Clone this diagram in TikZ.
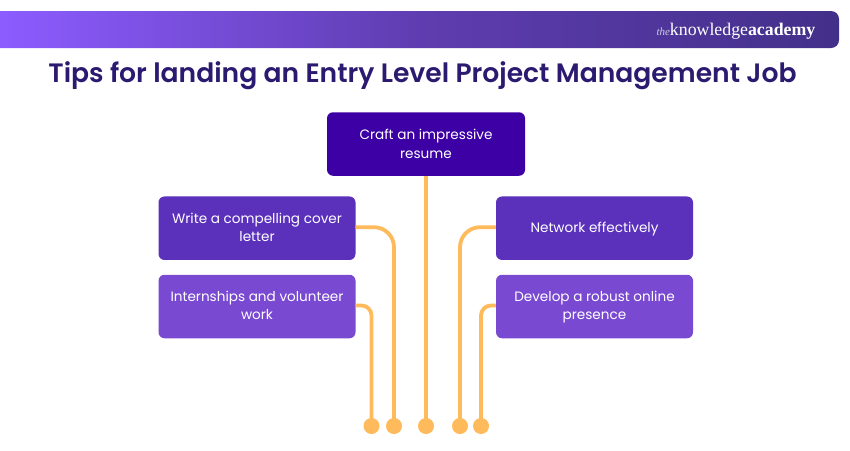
\documentclass[tikz,border=0pt]{standalone}
\usepackage{fontspec}
\setmainfont{Poppins}
\newfontfamily\logofont{Liberation Serif}
\newfontfamily\titlefont{Poppins SemiBold}
\definecolor{topbox}{HTML}{3C00A4}
\definecolor{midbox}{HTML}{5B31BC}
\definecolor{lowbox}{HTML}{7949D2}
\definecolor{wire}{HTML}{FFBA5C}
\definecolor{titleink}{HTML}{2B1A6F}
\definecolor{barleft}{HTML}{8C5CFF}
\definecolor{barright}{HTML}{43308A}
\definecolor{barmid}{HTML}{5F3DB0}
\newcommand{\dropfill}{\rule[-2pt]{0pt}{2pt}}
\tikzset{
  card/.style={rounded corners=6pt, minimum width=197pt, minimum height=63.5pt, inner sep=0pt,
    text=white, align=center, font=\fontsize{13.6}{19}\selectfont, anchor=center},
  tightcard/.style={card, font=\fontsize{13.6}{18}\selectfont},
  wireline/.style={draw=wire, line width=3.8pt},
  pin/.style={circle, fill=wire, minimum size=16pt, inner sep=0pt},
}
\begin{document}
\begin{tikzpicture}[x=1pt,y=-1pt]
\useasboundingbox (0,0) rectangle (850,450);
\fill[white] (0,0) rectangle (850,450);
\shade[left color=barleft, right color=barright, middle color=barmid]
  (0,11) [rounded corners=8pt] -- (839,11) -- (839,48) [sharp corners] -- (0,48) -- cycle;
\node (logo) [anchor=base east, inner sep=0pt, text=white, font=\logofont\fontsize{17.8}{18}\selectfont] at (815.5,35) {{\itshape\fontsize{11}{12}\selectfont\color{white!75!barright}the}knowledge\textbf{academy}};
\node (title) [anchor=base, inner sep=0pt, text=titleink, font=\titlefont\fontsize{26.6}{30}\selectfont] at (422.5,82) {Tips for landing an Entry Level Project Management Job};

\node (pa) [pin] at (371.5,426) {};
\node (pb) [pin] at (394,426) {};
\node (pc) [pin] at (426,426) {};
\node (pd) [pin] at (460,426) {};
\node (pe) [pin] at (481,426) {};

\node (top) [card, fill=topbox, minimum width=198pt] at (426,144) {Craft an impressive\\resume};
\node (la) [tightcard, fill=midbox] at (257,228.2) {Write a compelling cover\\letter\dropfill};
\node (lb) [tightcard, fill=lowbox] at (257,306.5) {Internships and volunteer\\work\dropfill};
\node (ra) [card, fill=midbox] at (594.5,228.2) {\rule{0pt}{12.5pt}Network effectively};
\node (rb) [tightcard, fill=lowbox] at (594.5,306.5) {\rule{0pt}{12.5pt}Develop a robust online\\presence};

\draw[wireline] (top.south) -- (pc.center);
\draw[wireline, rounded corners=20pt] ([yshift=1pt]la.east) -| (pb.center);
\draw[wireline, rounded corners=10pt] ([yshift=1pt]lb.east) -| (pa.center);
\draw[wireline, rounded corners=20pt] ([yshift=1pt]ra.west) -| (pd.center);
\draw[wireline, rounded corners=10pt] ([yshift=1pt]rb.west) -| (pe.center);
\end{tikzpicture}
\end{document}
